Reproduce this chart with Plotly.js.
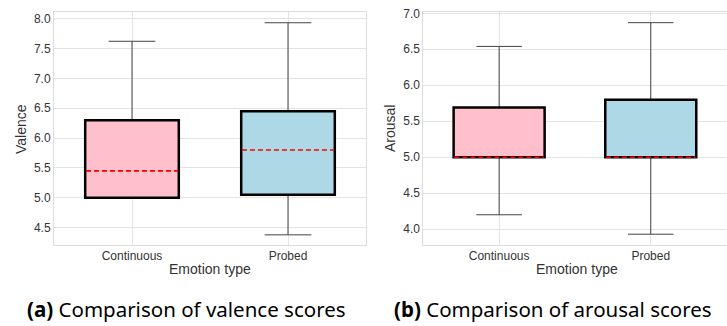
<!DOCTYPE html>
<html>
<head>
<meta charset="utf-8">
<script src="https://cdn.plot.ly/plotly-3.0.1.min.js"></script>
<style>html,body{margin:0;padding:0;background:#fff}#chart{width:727px;height:326px}</style>
</head>
<body>
<div id="chart"></div>
<script>
// ---- data ----
const categories = ['Continuous', 'Probed'];
const valenceQ1     = [5.00, 5.05];
const valenceMedian = [5.45, 5.80];
const valenceQ3     = [6.30, 6.45];
const valenceLower  = [5.00, 4.38];
const valenceUpper  = [7.62, 7.93];

const arousalQ1     = [5.00, 5.00];
const arousalMedian = [5.00, 5.00];
const arousalQ3     = [5.69, 5.80];
const arousalLower  = [4.20, 3.93];
const arousalUpper  = [6.54, 6.87];

const captions = ['<b>(a)</b> Comparison of valence scores', '<b>(b)</b> Comparison of arousal scores'];
const yTitles = ['Valence', 'Arousal'];
const xTitle = 'Emotion type';

// ---- style ----
const fills = ['#FFC0CB', '#ADD8E6'];
const halfW = 0.3;
const W = 727, H = 326;

const traces = [];
const shapes = [];
function addChart(q1, med, q3, lo, hi, xa, ya) {
  for (let i = 0; i < categories.length; i++) {
    traces.push({
      type: 'box', x: [i], q1: [q1[i]], median: [med[i]], q3: [q3[i]],
      lowerfence: [lo[i]], upperfence: [hi[i]],
      width: 2 * halfW, whiskerwidth: 0.5,
      fillcolor: fills[i], line: {color: '#444', width: 1},
      xaxis: xa, yaxis: ya, hoverinfo: 'skip', showlegend: false, boxpoints: false
    });
    shapes.push({type: 'rect', xref: xa, yref: ya, x0: i - halfW, x1: i + halfW,
      y0: q1[i], y1: q3[i], fillcolor: fills[i], line: {color: '#000', width: 2.5}, layer: 'above'});
    shapes.push({type: 'line', xref: xa, yref: ya, x0: i - halfW + 0.005, x1: i + halfW - 0.005,
      y0: med[i], y1: med[i], line: {color: '#ff0000', width: 1.6, dash: '5px,3px'}, layer: 'above'});
  }
}
addChart(valenceQ1, valenceMedian, valenceQ3, valenceLower, valenceUpper, 'x', 'y');
addChart(arousalQ1, arousalMedian, arousalQ3, arousalLower, arousalUpper, 'x2', 'y2');

const tickFont = {family: 'Liberation Sans, Arial, sans-serif', size: 12, color: '#333'};
const gridC = '#e3e3e3', lineC = '#dcdcdc';
function xAxis(domain, anchor) {
  return {domain: domain, anchor: anchor, range: [-0.5, 1.5], tickmode: 'array',
    tickvals: categories.map((c, i) => i), ticktext: categories, showgrid: true, gridcolor: gridC,
    zeroline: false, showline: true, mirror: true, linecolor: lineC, linewidth: 1,
    ticks: '', tickfont: tickFont, fixedrange: true};
}
function yAxis(domain, anchor, range) {
  return {domain: domain, anchor: anchor, range: range, dtick: 0.5, tick0: 0, tickformat: '.1f',
    showgrid: true, gridcolor: gridC, zeroline: false, showline: true, mirror: true,
    linecolor: lineC, linewidth: 1, ticks: '', tickfont: tickFont, fixedrange: true};
}
const yDom = [(H - 245) / H, (H - 12.3) / H];
const px = v => v / W, py = v => (H - v) / H;
const titleFont = {family: 'Liberation Sans, Arial, sans-serif', size: 14, color: '#333'};
const capFont = {family: 'Noto Sans, sans-serif', size: 20.5, color: '#000'};

const layout = {
  width: W, height: H, margin: {l: 0, r: 0, t: 0, b: 0},
  paper_bgcolor: '#fff', plot_bgcolor: '#fff', showlegend: false, boxmode: 'overlay',
  xaxis: xAxis([54 / W, 366 / W], 'y'),
  yaxis: yAxis(yDom, 'x', [4.21, 8.105]),
  xaxis2: xAxis([423.3 / W, 726.6 / W], 'y2'),
  yaxis2: yAxis(yDom, 'x2', [3.78, 7.014]),
  shapes: shapes,
  annotations: [
    {text: yTitles[0], x: px(21), y: py(129), xref: 'paper', yref: 'paper', textangle: -90, showarrow: false, font: titleFont, xanchor: 'center', yanchor: 'middle'},
    {text: yTitles[1], x: px(390), y: py(129), xref: 'paper', yref: 'paper', textangle: -90, showarrow: false, font: titleFont, xanchor: 'center', yanchor: 'middle'},
    {text: xTitle, x: px(210), y: py(269), xref: 'paper', yref: 'paper', showarrow: false, font: titleFont, xanchor: 'center', yanchor: 'middle'},
    {text: xTitle, x: px(577), y: py(269), xref: 'paper', yref: 'paper', showarrow: false, font: titleFont, xanchor: 'center', yanchor: 'middle'},
    {text: captions[0], x: px(186), y: py(309), xref: 'paper', yref: 'paper', showarrow: false, font: capFont, xanchor: 'center', yanchor: 'middle'},
    {text: captions[1], x: px(553), y: py(309), xref: 'paper', yref: 'paper', showarrow: false, font: capFont, xanchor: 'center', yanchor: 'middle'}
  ]
};
Plotly.newPlot('chart', traces, layout, {staticPlot: true, displayModeBar: false});
</script>
</body>
</html>
